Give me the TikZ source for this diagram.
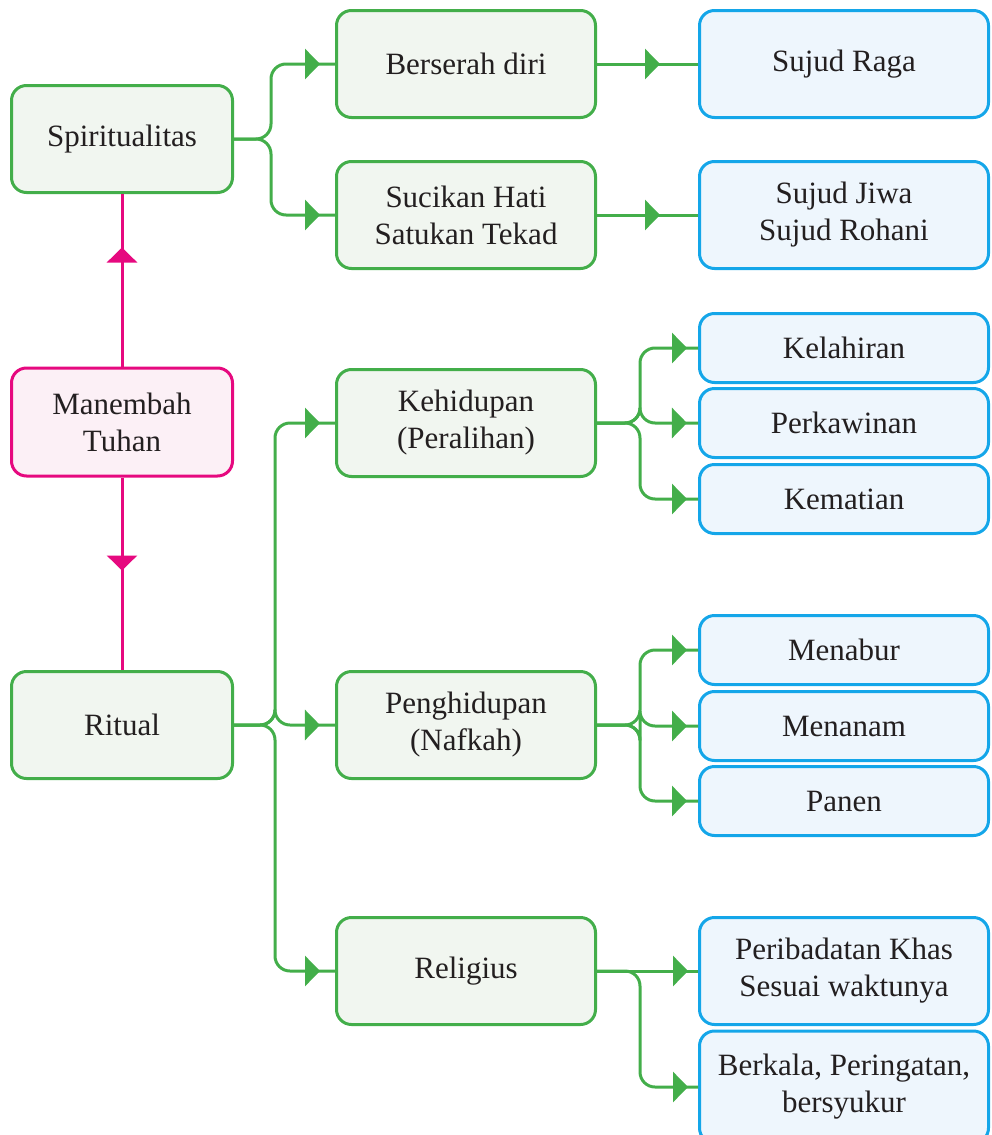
\documentclass[tikz,border=0pt]{standalone}
\usepackage{fontspec}
\setmainfont{Liberation Serif}
\usetikzlibrary{arrows.meta,decorations.markings}
\definecolor{gline}{HTML}{43AE4A}
\definecolor{gfill}{HTML}{F1F6F0}
\definecolor{bline}{HTML}{14A6E9}
\definecolor{bfill}{HTML}{EEF6FD}
\definecolor{pline}{HTML}{E6097F}
\definecolor{pfill}{HTML}{FCF0F6}
\definecolor{ink}{HTML}{231F20}
\begin{document}
\begin{tikzpicture}[x=1pt,y=-1pt,line join=round,
    box/.style={rounded corners=15pt,line width=3pt,align=center,text=ink,
      inner sep=0pt,font=\fontsize{31}{37}\selectfont},
    greenbox/.style={box,draw=gline,fill=gfill,minimum height=107pt},
    leftbox/.style={greenbox,minimum width=221pt},
    midbox/.style={greenbox,minimum width=259pt},
    bluebox/.style={box,draw=bline,fill=bfill,minimum width=289pt},
    tall/.style={minimum height=107pt},
    short/.style={minimum height=69pt},
    pinkbox/.style={box,draw=pline,fill=pfill,minimum width=221pt,minimum height=108pt},
    link/.style={color=gline,draw,line width=3pt,rounded corners=15pt,postaction=decorate},
    plink/.style={color=pline,draw,line width=3pt,postaction=decorate},
    tipat/.style={decoration={markings,
        mark=at position #1 with {\arrow{Triangle[length=15pt,width=30pt]}}}}]
  \useasboundingbox (0,0) rectangle (991,1135);

  % left column
  \node[leftbox] (spi) at (122,139) {Spiritualitas};
  \node[pinkbox] (man) at (122,422) {Manembah\\Tuhan};
  \node[leftbox] (rit) at (122,725) {Ritual};

  % middle column
  \node[midbox] (ber) at (466,64) {Berserah diri};
  \node[midbox] (suc) at (466,215) {Sucikan Hati\\Satukan Tekad};
  \node[midbox] (keh) at (466,423) {Kehidupan\\(Peralihan)};
  \node[midbox] (pen) at (466,725) {Penghidupan\\(Nafkah)};
  \node[midbox] (rel) at (466,971) {Religius};

  % right column
  \node[bluebox,tall] (raga) at (844,64) {Sujud Raga};
  \node[bluebox,tall] (jiwa) at (844,215) {Sujud Jiwa\\Sujud Rohani};
  \node[bluebox,short] (lahir) at (844,348) {Kelahiran};
  \node[bluebox,short] (kawin) at (844,423) {Perkawinan};
  \node[bluebox,short] (mati) at (844,499) {Kematian};
  \node[bluebox,short] (tabur) at (844,650) {Menabur};
  \node[bluebox,short] (tanam) at (844,726) {Menanam};
  \node[bluebox,short] (panen) at (844,801) {Panen};
  \node[bluebox,tall] (ibadah) at (844,971) {Peribadatan Khas\\Sesuai waktunya};
  \node[bluebox,minimum height=112pt] (kala) at (844,1087) {Berkala, Peringatan,\\bersyukur};

  % pink connectors
  \path[plink,tipat=119pt] (man.north) -- (spi.south);
  \path[plink,tipat=93pt] (man.south) -- (rit.north);

  % green connectors
  \foreach \to in {ber,suc}
    \path[link,tipat=-15pt] (spi.east) -- ++(37,0) |- (\to.west);
  \foreach \to in {keh,pen,rel}
    \path[link,tipat=-15pt] (rit.east) -- ++(41,0) |- (\to.west);
  \path[link,tipat=-38pt] (ber.east) -- (raga.west);
  \path[link,tipat=-38pt] (suc.east) -- (jiwa.west);
  \foreach \to in {lahir,kawin,mati}
    \path[link,tipat=-11pt] (keh.east) -- ++(43,0) |- (\to.west);
  \foreach \to in {tabur,tanam,panen}
    \path[link,tipat=-11pt] (pen.east) -- ++(43,0) |- (\to.west);
  \path[link,tipat=-10pt] (rel.east) -- (ibadah.west);
  \path[link,tipat=-10pt] (rel.east) -- ++(43,0) |- (kala.west);
\end{tikzpicture}
\end{document}
